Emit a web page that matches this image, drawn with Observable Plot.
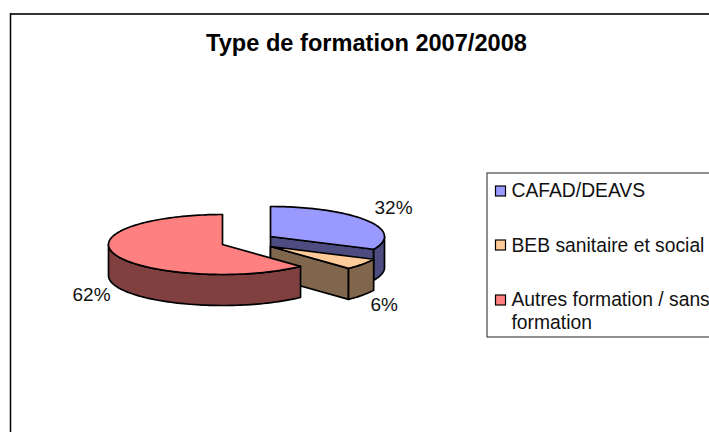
<!DOCTYPE html>
<html>
<head>
<meta charset="utf-8">
<script src="https://cdn.jsdelivr.net/npm/d3@7"></script>
<script src="https://cdn.jsdelivr.net/npm/@observablehq/plot@0.6"></script>
<style>
html,body{margin:0;padding:0;background:#fff;overflow:hidden}
svg{display:block}
</style>
</head>
<body>
<div id="chart"></div>
<script>
const title = "Type de formation 2007/2008";
const categories = ["CAFAD/DEAVS", "BEB sanitaire et social", "Autres formation / sans formation"];
const values = [32, 6, 62];
const percentLabels = ["32%", "6%", "62%"];
const topColors = ["#9999FF", "#FFCC99", "#FF8080"];
const sideColors = ["#4C4C80", "#80664C", "#804040"];

// Pie layout (oblique view of an exploded disc)
const centres = [[270, 236], [270, 246], [222, 244]];
const rx = 114, ry = 30, depth = 31;
const slices = d3.pie().sort(null).startAngle(0).endAngle(2 * Math.PI)(values);

const pt = (c, a, dz = 0, r = 1) => ({
  x: c[0] + r * rx * Math.sin(a),
  y: c[1] - r * ry * Math.cos(a) + dz
});
const arc = (c, a0, a1, dz = 0) => {
  const n = Math.max(2, Math.ceil(Math.abs(a1 - a0) / 0.03));
  return d3.range(n + 1).map(i => pt(c, a0 + (a1 - a0) * i / n, dz));
};
const closed = pts => [...pts, pts[0]];

const faces = [];
slices.forEach((s, i) => {
  const c = centres[i];
  const a0 = s.startAngle, a1 = s.endAngle;
  // cut face on the clockwise end, when it looks towards the viewer
  if (Math.sin(a1) > 0) {
    faces.push({pts: closed([pt(c, 0 + a1, 0, 0), pt(c, a1), pt(c, a1, depth), pt(c, a1, depth, 0)]), fill: sideColors[i]});
  }
  // outer wall: only the front half of the rim (90deg to 270deg)
  const w0 = Math.max(a0, Math.PI / 2), w1 = Math.min(a1, 3 * Math.PI / 2);
  if (w1 > w0) {
    faces.push({pts: closed([...arc(c, w0, w1), ...arc(c, w1, w0, depth)]), fill: sideColors[i]});
  }
  // top
  faces.push({pts: closed([pt(c, a0, 0, 0), ...arc(c, a0, a1)]), fill: topColors[i]});
});

const legendRows = [
  {lines: [categories[0]], y: 195, box: 186},
  {lines: [categories[1]], y: 250, box: 240},
  {lines: ["Autres formation / sans", "formation"], y: 304, box: 295}
];
legendRows.forEach((r, i) => r.color = topColors[i]);
const legendText = legendRows.flatMap(r => r.lines.map((t, j) => ({t, y: r.y + j * 23})));
const pctPos = [
  {x: 374, y: 214}, {x: 370, y: 311}, {x: 72, y: 301}
].map((p, i) => ({...p, t: percentLabels[i]}));

const chart = Plot.plot({
  width: 709,
  height: 432,
  margin: 0,
  x: {domain: [0, 709], range: [0, 709], axis: null},
  y: {domain: [0, 432], range: [0, 432], axis: null},
  style: {background: "#fff", fontFamily: "Liberation Sans, Arial, sans-serif"},
  marks: [
    Plot.ruleY([13.5], {x1: 10, x2: 709, stroke: "#333", strokeWidth: 2}),
    Plot.ruleX([10], {y1: 13, y2: 432, stroke: "#000", strokeWidth: 1.5}),
    Plot.text([title], {x: 366, y: 43, text: d => d, fontSize: 23.6, fontWeight: "bold", fill: "#000", textAnchor: "middle", lineAnchor: "middle"}),
    ...faces.map(f => Plot.line(f.pts, {x: "x", y: "y", fill: f.fill, stroke: "#000", strokeWidth: 1.7, strokeLinejoin: "round", curve: "linear"})),
    Plot.text(pctPos, {x: "x", y: "y", text: "t", fontSize: 19, fill: "#111", textAnchor: "start", lineAnchor: "bottom", dy: -1}),
    Plot.rect([0], {x1: 487, x2: 712, y1: 173, y2: 337, fill: "#fff", stroke: "#222", strokeWidth: 1}),
    Plot.rect(legendRows, {x1: 495.5, x2: 505.5, y1: "box", y2: d => d.box + 10, fill: "color", stroke: "#000", strokeWidth: 1.2}),
    Plot.text(legendText, {x: 511, y: "y", text: "t", fontSize: 19.3, fill: "#111", textAnchor: "start", lineAnchor: "bottom", dy: 1})
  ]
});
document.getElementById("chart").appendChild(chart);
</script>
</body>
</html>
